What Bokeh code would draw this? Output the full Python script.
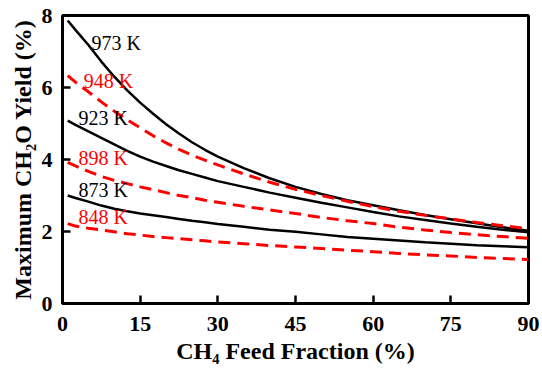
from bokeh.plotting import figure
from bokeh.models import Range1d, FixedTicker, Label
from bokeh.embed import file_html
from bokeh.resources import INLINE

# CH4 feed fraction (%)
feed = [1, 2.5, 5, 7.5, 10, 12.5, 15, 17.5, 20, 22.5, 25, 27.5, 30,
        35, 40, 45, 50, 55, 60, 65, 70, 75, 80, 85, 90]

# Maximum CH2O yield (%) per temperature
y973 = [7.86, 7.60, 7.18, 6.72, 6.30, 5.92, 5.58, 5.27, 4.98, 4.72, 4.48, 4.27, 4.08,
        3.76, 3.48, 3.24, 3.04, 2.87, 2.73, 2.59, 2.46, 2.34, 2.23, 2.12, 2.02]
y948 = [6.33, 6.15, 5.88, 5.60, 5.34, 5.10, 4.88, 4.66, 4.46, 4.28, 4.12, 3.98, 3.85,
        3.60, 3.37, 3.17, 3.00, 2.84, 2.69, 2.56, 2.45, 2.35, 2.25, 2.16, 2.08]
y923 = [5.08, 4.96, 4.78, 4.60, 4.42, 4.24, 4.08, 3.94, 3.82, 3.70, 3.60, 3.50, 3.40,
        3.24, 3.08, 2.94, 2.80, 2.67, 2.54, 2.42, 2.32, 2.22, 2.13, 2.05, 1.98]
y898 = [3.92, 3.82, 3.67, 3.53, 3.42, 3.33, 3.24, 3.16, 3.08, 3.00, 2.94, 2.87, 2.81,
        2.70, 2.60, 2.50, 2.39, 2.30, 2.22, 2.12, 2.04, 1.97, 1.91, 1.86, 1.81]
y873 = [3.00, 2.93, 2.83, 2.72, 2.63, 2.56, 2.50, 2.45, 2.40, 2.35, 2.30, 2.26, 2.21,
        2.13, 2.05, 1.99, 1.92, 1.85, 1.80, 1.75, 1.70, 1.66, 1.62, 1.59, 1.56]
y848 = [2.22, 2.15, 2.09, 2.04, 1.99, 1.94, 1.90, 1.86, 1.83, 1.80, 1.77, 1.74, 1.71,
        1.66, 1.61, 1.57, 1.53, 1.48, 1.44, 1.39, 1.35, 1.32, 1.28, 1.25, 1.22]

labels = ["973 K", "948 K", "923 K", "898 K", "873 K", "848 K"]
x_ticks = [0, 15, 30, 45, 60, 75, 90]
y_ticks = [0, 2, 4, 6, 8]
x_title = "CH\u2084 Feed Fraction (%)"
y_title = "Maximum CH\u2082O Yield (%)"

FONT = "Liberation Serif"

p = figure(frame_width=466, frame_height=288, output_backend="svg", toolbar_location=None,
           x_range=Range1d(0, 90), y_range=Range1d(0, 8),
           min_border_left=62, min_border_right=12, min_border_top=15, min_border_bottom=65)

p.xgrid.visible = False
p.ygrid.visible = False
p.outline_line_color = "black"
p.outline_line_width = 3
p.background_fill_color = "white"
p.border_fill_color = "white"

series = [y973, y948, y923, y898, y873, y848]
for i, ys in enumerate(series):
    if i % 2 == 0:
        p.line(feed, ys, line_color="black", line_width=2.5)
    else:
        p.line(feed, ys, line_color="#ff0000", line_width=3, line_dash="12 7")

# curve labels
label_pos = [(5.6, 7.25), (4.1, 6.19), (3.1, 5.14), (3.1, 4.03), (3.1, 3.14), (3.1, 2.39)]
for i, (lx, ly) in enumerate(label_pos):
    p.add_layout(Label(x=lx, y=ly, text=labels[i], text_font=FONT, text_font_size="20px",
                       text_color="black" if i % 2 == 0 else "#ff0000",
                       text_baseline="middle", text_align="left"))

for ax in (p.xaxis[0], p.yaxis[0]):
    ax.axis_line_width = 3
    ax.axis_line_color = "black"
    ax.major_tick_in = 8
    ax.major_tick_out = 0
    ax.major_tick_line_width = 2.5
    ax.minor_tick_line_color = None
    ax.major_label_text_font = FONT
    ax.major_label_text_font_style = "bold"
    ax.major_label_text_font_size = "22px"
    ax.major_label_text_color = "black"
    ax.axis_label_text_font = FONT
    ax.axis_label_text_font_style = "bold"
    ax.axis_label_text_font_size = "24px"
    ax.axis_label_text_color = "black"

p.xaxis[0].ticker = FixedTicker(ticks=x_ticks)
p.yaxis[0].ticker = FixedTicker(ticks=y_ticks)
p.xaxis[0].major_label_standoff = 13
p.yaxis[0].major_label_standoff = 10
p.xaxis[0].axis_label_standoff = 4
p.yaxis[0].axis_label_standoff = 3
p.xaxis[0].axis_label = x_title
p.yaxis[0].axis_label = y_title

open("out.html", "w").write(file_html(p, INLINE))
